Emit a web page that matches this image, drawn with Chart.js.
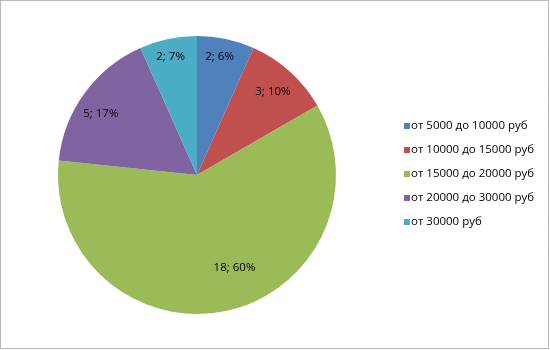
<!DOCTYPE html>
<html>
<head>
<meta charset="utf-8">
<script src="https://cdn.jsdelivr.net/npm/chart.js@4/dist/chart.umd.min.js"></script>
<style>
html,body{margin:0;padding:0;background:#fff;}
#wrap{width:550px;height:350px;position:relative;}
</style>
</head>
<body>
<div id="wrap"><canvas id="c" width="550" height="350"></canvas></div>
<script>
const categories = ["от 5000 до 10000 руб","от 10000 до 15000 руб","от 15000 до 20000 руб","от 20000 до 30000 руб","от 30000 руб"];
const counts = [2, 3, 18, 5, 2];
const percentLabels = ["6%", "10%", "60%", "17%", "7%"];
const colors = ["#4F81BD", "#C0504D", "#9BBB59", "#8064A2", "#4BACC6"];

// label placement (fraction of radius, angle nudge in degrees)
const labelRadiusFrac = [0.866, 0.81, 0.72, 0.82, 0.87];
const labelAngleNudge = [-1.2, 0.4, -10, -3.6, -0.6];

const FONT = "11.5px 'Open Sans', 'DejaVu Sans', sans-serif";

const decor = {
  id: 'decor',
  afterDatasetsDraw(chart) {
    const ctx = chart.ctx;
    const meta = chart.getDatasetMeta(0);
    ctx.save();
    ctx.font = FONT;
    ctx.fillStyle = '#000';
    ctx.textAlign = 'center';
    ctx.textBaseline = 'middle';
    meta.data.forEach((arc, i) => {
      const p = arc.getProps(['x','y','startAngle','endAngle','outerRadius'], true);
      const mid = (p.startAngle + p.endAngle) / 2 + labelAngleNudge[i] * Math.PI / 180;
      const r = p.outerRadius * labelRadiusFrac[i];
      const x = p.x + Math.cos(mid) * r;
      const y = p.y + Math.sin(mid) * r;
      ctx.fillText(counts[i] + "; " + percentLabels[i], x, y);
    });
    // legend
    ctx.textAlign = 'left';
    const lx = 404, ly0 = 126, dy = 24;
    categories.forEach((c, i) => {
      const y = ly0 + i * dy;
      ctx.fillStyle = colors[i];
      ctx.fillRect(lx, y - 3, 6, 6);
      ctx.fillStyle = '#000';
      ctx.fillText(c, lx + 7, y);
    });
    // dotted frame
    ctx.strokeStyle = '#707070';
    ctx.lineWidth = 1;
    ctx.setLineDash([1, 1]);
    ctx.strokeRect(0.5, 0.5, 548, 348);
    ctx.restore();
  }
};

new Chart(document.getElementById('c'), {
  type: 'pie',
  data: {
    labels: categories,
    datasets: [{
      data: counts,
      backgroundColor: colors,
      borderWidth: 0
    }]
  },
  options: {
    responsive: false,
    animation: false,
    layout: { padding: { left: 58, right: 214, top: 36, bottom: 36 } },
    plugins: {
      legend: { display: false },
      tooltip: { enabled: false }
    }
  },
  plugins: [decor]
});
</script>
</body>
</html>
